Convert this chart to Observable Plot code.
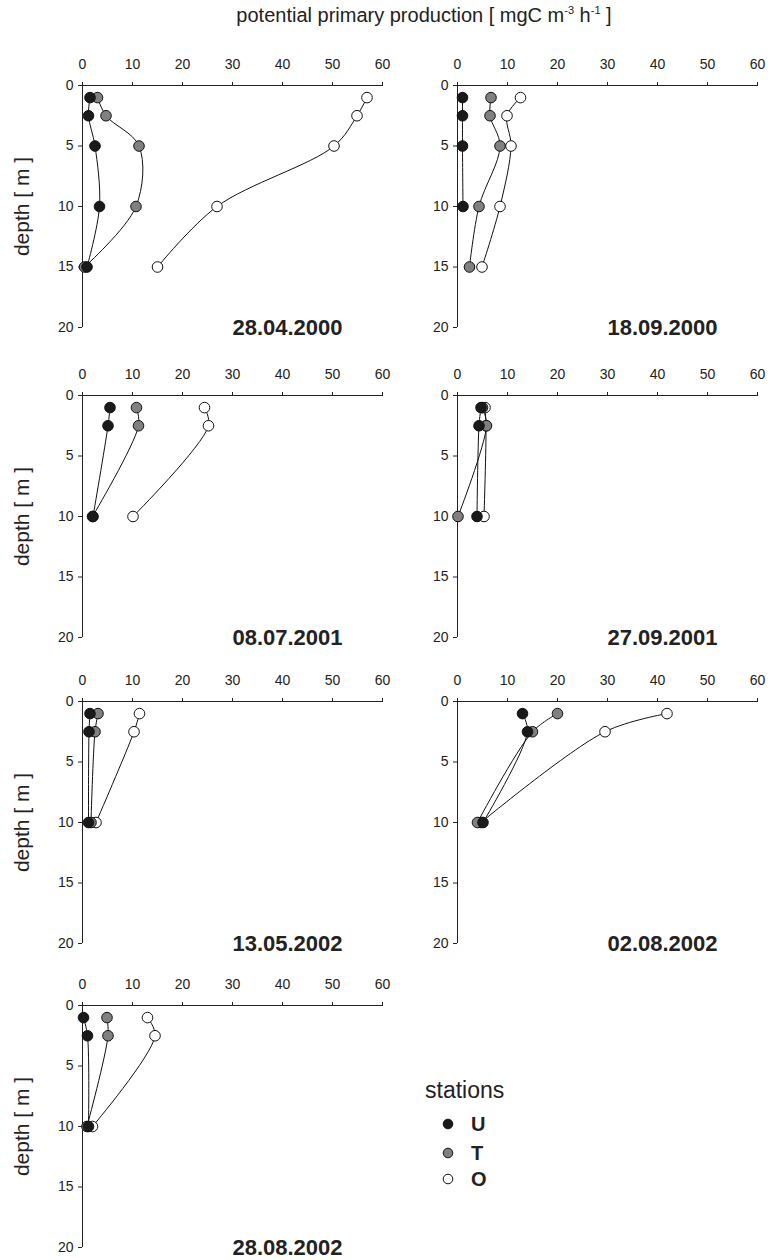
<!DOCTYPE html>
<html><head><meta charset="utf-8">
<script src="https://cdn.jsdelivr.net/npm/d3@7"></script>
<script src="https://cdn.jsdelivr.net/npm/@observablehq/plot@0.6"></script>
<style>
body{margin:0;background:#fff;font-family:"Liberation Sans",Arial,sans-serif;color:#222;}
#root{position:relative;width:771px;height:1260px;overflow:hidden;}
.panel{position:absolute;}
#title{position:absolute;left:0;width:848px;top:4px;text-align:center;font-size:20px;color:#222;white-space:nowrap;}
#title sup{font-size:11px;}
.lg{position:absolute;color:#222;white-space:nowrap;line-height:1;}
</style></head><body>
<div id="root">
  <div id="title">potential primary production [ mgC m<sup>-3</sup> h<sup>-1</sup> ]</div>
</div>
<script>
// ---- data ----
const dates = ["28.04.2000", "18.09.2000", "08.07.2001", "27.09.2001", "13.05.2002", "02.08.2002", "28.08.2002"];
const panelDepths = [
  [1, 2.5, 5, 10, 15],
  [1, 2.5, 5, 10, 15],
  [1, 2.5, 10],
  [1, 2.5, 10],
  [1, 2.5, 10],
  [1, 2.5, 10],
  [1, 2.5, 10]
];
const stations = ["U", "T", "O"];
// production per panel, per depth (null = no sample)
const prodU = [
  [1.5, 1.2, 2.5, 3.4, 0.9],
  [1.0, 1.0, 1.0, 1.1, null],
  [5.5, 5.1, 2.1],
  [4.7, 4.3, 3.9],
  [1.5, 1.3, 1.2],
  [13.0, 14.0, 5.1],
  [0.2, 1.0, 1.2]
];
const prodT = [
  [3.0, 4.7, 11.3, 10.7, 0.4],
  [6.7, 6.5, 8.5, 4.3, 2.4],
  [10.8, 11.2, 2.0],
  [5.0, 5.8, 0.1],
  [3.1, 2.5, 1.7],
  [20.0, 15.0, 4.0],
  [4.9, 5.1, 0.9]
];
const prodO = [
  [56.9, 54.9, 50.3, 26.9, 15.0],
  [12.6, 9.9, 10.7, 8.5, 4.9],
  [24.4, 25.2, 10.1],
  [5.5, 5.7, 5.3],
  [11.4, 10.3, 2.7],
  [41.9, 29.5, 4.7],
  [13.0, 14.5, 2.0]
];
const xTicks = [0, 10, 20, 30, 40, 50, 60];
const yTicks = [0, 5, 10, 15, 20];
const yLabel = "depth [ m ]";
const legendTitle = "stations";

// ---- styling ----
const stationFill = {U: "#1a1a1a", T: "#808080", O: "#ffffff"};
const drawOrder = ["O", "T", "U"];
const colLeft = [0, 374.5];
const rowTop = [40, 350, 655.7, 960];
const FONT = '"Liberation Sans", Arial, sans-serif';

const root = document.getElementById("root");
const series = {U: prodU, T: prodT, O: prodO};

dates.forEach((date, i) => {
  const rows = [];
  for (const s of stations) {
    series[s][i].forEach((v, k) => {
      if (v != null) rows.push({station: s, depth: panelDepths[i][k], prod: v});
    });
  }
  const col = i % 2, row = Math.floor(i / 2);
  const marks = [
    Plot.ruleY([0], {stroke: "#222", strokeWidth: 1}),
    Plot.ruleX([0], {stroke: "#222", strokeWidth: 1}),
  ];
  for (const s of drawOrder) {
    marks.push(Plot.line(rows.filter(d => d.station === s), {x: "prod", y: "depth", curve: "catmull-rom", stroke: "#111", strokeWidth: 1}));
  }
  for (const s of drawOrder) {
    marks.push(Plot.dot(rows.filter(d => d.station === s), {x: "prod", y: "depth", r: 5.3, fill: stationFill[s], stroke: "#111", strokeWidth: 1}));
  }
  marks.push(Plot.text([date], {x: 41, y: 20, text: d => d, fontWeight: "bold", fontSize: 22, textAnchor: "middle", fill: "#222"}));
  if (col === 0) {
    marks.push(Plot.text([yLabel], {y: 10, frameAnchor: "left", text: d => d, rotate: -90, dx: -60, fontSize: 21, textAnchor: "middle", fill: "#222"}));
  }
  const svg = Plot.plot({
    width: 392, height: 300,
    marginLeft: 82, marginRight: 10, marginTop: 45, marginBottom: 13,
    style: {fontFamily: FONT, fontSize: "14px", color: "#222", background: "transparent", overflow: "visible"},
    x: {domain: [0, 60], axis: "top", ticks: xTicks, tickSize: 4, tickPadding: 13, label: null},
    y: {domain: [0, 20], reverse: true, ticks: yTicks, tickSize: 4, tickPadding: 5, label: null},
    marks
  });
  const div = document.createElement("div");
  div.className = "panel";
  div.style.left = colLeft[col] + "px";
  div.style.top = rowTop[row] + "px";
  div.appendChild(svg);
  root.appendChild(div);
});

// legend
function addLegend(html, left, top, style) {
  const el = document.createElement("div");
  el.className = "lg";
  el.style.left = left + "px";
  el.style.top = top + "px";
  Object.assign(el.style, style || {});
  el.innerHTML = html;
  root.appendChild(el);
}
addLegend(legendTitle, 425, 1079, {fontSize: "23px"});
const legendRowY = [1124, 1153, 1179];
stations.forEach((s, k) => {
  addLegend(`<svg width="14" height="14"><circle cx="7" cy="7" r="4.8" fill="${stationFill[s]}" stroke="#111" stroke-width="1"/></svg>`, 441, legendRowY[k] - 7);
  addLegend(s, 471, legendRowY[k] - 10, {fontSize: "20px", fontWeight: "bold"});
});
</script>
</body></html>
